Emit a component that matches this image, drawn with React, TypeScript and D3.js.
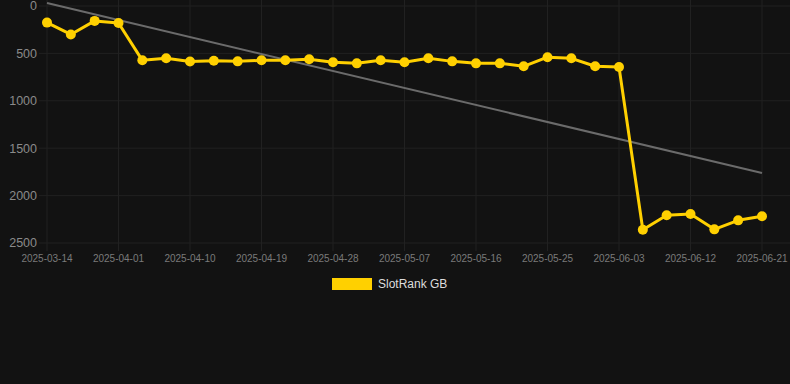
import React from "react";
import * as d3 from "d3";

const dates = [
  "2025-03-14", "2025-03-20", "2025-03-26", "2025-04-01", "2025-04-04", "2025-04-07",
  "2025-04-10", "2025-04-13", "2025-04-16", "2025-04-19", "2025-04-22", "2025-04-25",
  "2025-04-28", "2025-05-01", "2025-05-04", "2025-05-07", "2025-05-10", "2025-05-13",
  "2025-05-16", "2025-05-19", "2025-05-22", "2025-05-25", "2025-05-28", "2025-05-31",
  "2025-06-03", "2025-06-06", "2025-06-09", "2025-06-12", "2025-06-15", "2025-06-18",
  "2025-06-21",
];
const ranks = [
  175, 300, 157, 180, 573, 552, 585, 577, 584, 573, 573, 562, 594, 605, 573, 594,
  552, 584, 605, 605, 636, 540, 552, 636, 643, 2360, 2208, 2194, 2356, 2261, 2218,
];
const trendValues = [-32, 1762];
const yTicks = [0, 500, 1000, 1500, 2000, 2500];
const seriesName = "SlotRank GB";

export default function App() {
  const W = 790, H = 384;
  const left = 47, right = 762, top = 6, bottom = 243;
  const x = d3.scalePoint<string>().domain(dates).range([left, right]);
  const y = d3.scaleLinear().domain([0, 2500]).range([top, bottom]);
  const line = d3.line<number>().x((_, i) => x(dates[i])!).y((d) => y(d));
  const xTickLabels = dates.filter((_, i) => i % 3 === 0);
  const gridColor = "#212121";
  return (
    <div style={{ position: "absolute", left: 0, top: 0, width: W, height: H, background: "#121212" }}>
      <svg width={W} height={H} style={{ display: "block", fontFamily: "Arial, 'Liberation Sans', sans-serif" }}>
        <rect width={W} height={H} fill="#121212" />
        {yTicks.map((t) => (
          <g key={t}>
            <line x1={39} x2={W} y1={y(t)} y2={y(t)} stroke={gridColor} strokeWidth={1} />
            <text x={37} y={y(t)} dy="0.35em" textAnchor="end" fill="#8a8a8a" fontSize={12.5}>{t}</text>
          </g>
        ))}
        {xTickLabels.map((d) => (
          <g key={d}>
            <line x1={x(d)} x2={x(d)} y1={0} y2={251} stroke={gridColor} strokeWidth={1} />
            <text x={x(d)} y={262} textAnchor="middle" fill="#7a7a7a" fontSize={10}>{d}</text>
          </g>
        ))}
        <line
          x1={x(dates[0])} y1={y(trendValues[0])}
          x2={x(dates[dates.length - 1])} y2={y(trendValues[1])}
          stroke="#6b6b6b" strokeWidth={2}
        />
        <path d={line(ranks) || ""} fill="none" stroke="#FFD000" strokeWidth={3} strokeLinejoin="round" />
        {ranks.map((v, i) => (
          <circle key={i} cx={x(dates[i])} cy={y(v)} r={5} fill="#FFD000" />
        ))}
        <rect x={332} y={278} width={40} height={12} fill="#FFD000" />
        <text x={378} y={284} dy="0.35em" fill="#dddddd" fontSize={12}>{seriesName}</text>
      </svg>
    </div>
  );
}
